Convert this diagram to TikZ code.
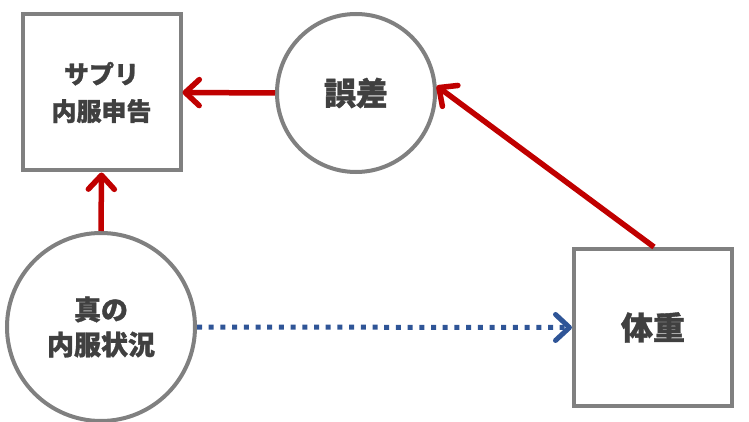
\documentclass[tikz,border=0pt]{standalone}
\usepackage{fontspec}
\setmainfont{Noto Sans CJK JP}[BoldFeatures={FakeBold=1.2}]
\usetikzlibrary{arrows.meta}
\definecolor{edgegray}{HTML}{808080}
\definecolor{txtgray}{HTML}{404040}
\definecolor{arrred}{HTML}{C00000}
\definecolor{arrblue}{HTML}{2F5597}
\tikzset{
  boxnode/.style={draw=edgegray, line width=4pt, fill=white, minimum width=158pt, minimum height=156pt, inner sep=0pt, align=center, text=txtgray, font=\bfseries},
  circnode/.style={draw=edgegray, line width=4pt, fill=white, circle, inner sep=0pt, align=center, text=txtgray, font=\bfseries},
  redarrow/.style={draw=arrred, line width=5.5pt, -{Straight Barb[length=14pt,width=26pt,line width=5.5pt,round]}},
  bluearrow/.style={draw=arrblue, line width=5pt, line cap=butt, dash pattern=on 5pt off 6.7pt, -{Straight Barb[length=14pt,width=26pt,line width=5pt,round]}}
}
\begin{document}
\begin{tikzpicture}[x=1pt,y=-1pt]
\useasboundingbox (0,0) rectangle (749,422);
\node[boxnode, font=\bfseries\fontsize{25}{37}\selectfont] (sup) at (101.5,92.5) {サプリ\\内服申告};
\node[circnode, minimum size=158pt, font=\bfseries\fontsize{32}{34}\selectfont] (err) at (356,93) {誤差};
\node[circnode, minimum size=188pt, font=\bfseries\fontsize{27}{35}\selectfont] (true) at (101,327) {真の\\内服状況};
\node[boxnode, minimum height=157pt, font=\bfseries\fontsize{32}{34}\selectfont] (wt) at (653,327.5) {体重};
\draw[redarrow] (err.west) -- (sup.east);
\draw[redarrow] (true.north) -- (sup.south);
\draw[redarrow] ([xshift=1pt]wt.north) -- (err.5);
\draw[bluearrow] (true.east) -- (wt.west);
\end{tikzpicture}
\end{document}
